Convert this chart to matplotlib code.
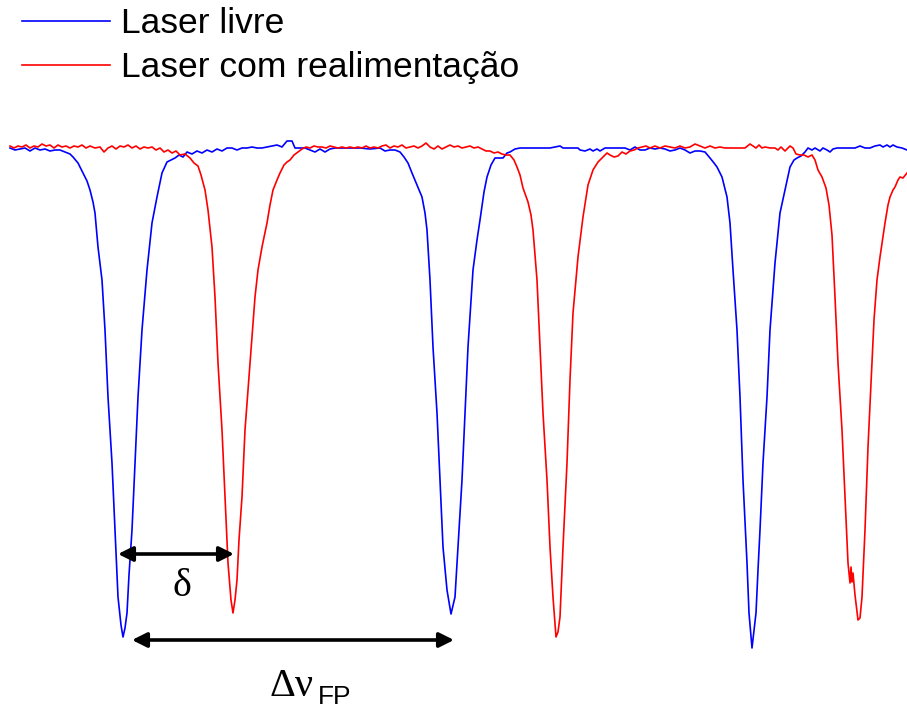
import matplotlib
matplotlib.use("Agg")
import matplotlib.pyplot as plt

# scan position (arb. units) and relative transmitted signal (arb. units, baseline 0)
blue_x = [10, 15, 20, 25, 30, 35, 40, 45, 50, 55, 60, 65, 70, 73, 78, 83, 87, 90, 93, 95, 98, 102, 105, 108, 112,
          115, 118, 121, 123, 125, 127, 129, 132, 135, 138, 142, 147, 152, 157, 162, 167, 171, 175, 179, 183,
          187, 192, 197, 202, 207, 212, 217, 222, 227, 232, 237, 242, 247, 252, 257, 262, 267, 272, 277, 282,
          287, 292, 295, 300, 305, 310, 315, 320, 325, 330, 335, 340, 350, 360, 370, 380, 385, 390, 395, 400,
          404, 408, 412, 417, 422, 425, 427, 430, 433, 437, 440, 443, 447, 451, 455, 458, 462, 465, 468, 473,
          477, 480, 484, 487, 491, 495, 499, 503, 507, 510, 515, 520, 530, 540, 550, 560, 563, 570, 578, 580,
          585, 590, 593, 597, 600, 605, 615, 625, 630, 635, 640, 645, 650, 655, 660, 665, 670, 675, 680, 685,
          690, 695, 700, 705, 710, 714, 717, 722, 727, 730, 733, 737, 740, 743, 747, 749, 752, 756, 758, 760,
          763, 767, 770, 775, 780, 785, 790, 794, 797, 801, 805, 808, 812, 815, 820, 823, 827, 830, 833, 837,
          845, 850, 855, 860, 865, 870, 875, 880, 883, 887, 890, 893, 897, 902, 907]
blue_y = [0, -2, -1, 0, -3, 0, -2, -1, -3, -2, -2, -4, -6, -9, -15, -25, -33, -42, -54, -65, -99, -132, -182, -249,
          -315, -382, -449, -477, -489, -480, -465, -427, -382, -315, -249, -182, -122, -75, -49, -25, -14, -12,
          -10, -7, -9, -4, -6, -3, -5, -2, -4, -1, -3, 0, 0, -2, 0, 0, 1, 0, 0, 1, 2, 3, 1, 7, 7, 0, 0, 0, -2,
          -4, -1, -4, -1, 0, 0, 0, 0, -1, 0, -3, -2, -2, -4, -9, -15, -25, -37, -49, -65, -82, -132, -199, -265,
          -332, -399, -442, -466, -449, -399, -332, -265, -199, -122, -92, -72, -44, -29, -17, -10, -10, -10, -5,
          -4, -1, 0, 0, 0, 0, 2, 0, 0, 0, -2, -3, -1, -3, -1, -3, 0, 0, 0, -2, 1, -2, -2, 0, -1, 0, -1, -3, -2,
          0, -2, -5, -3, -3, -4, -10, -15, -19, -29, -49, -75, -122, -182, -249, -332, -415, -465, -500, -465,
          -422, -382, -315, -249, -182, -115, -65, -42, -19, -12, -10, -8, -4, 0, -2, 0, -3, 0, -2, -4, -1, 0,
          0, 0, 0, 2, 0, 0, 2, 3, 1, 3, 1, 3, 1, 0, -2]

red_x = [10, 14, 18, 22, 26, 30, 34, 38, 42, 46, 50, 54, 58, 62, 66, 70, 74, 78, 82, 86, 90, 95, 100, 104, 108,
         112, 116, 120, 124, 128, 132, 136, 140, 144, 148, 152, 156, 160, 164, 168, 172, 176, 180, 185, 190, 194,
         198, 201, 205, 208, 212, 215, 218, 222, 225, 228, 231, 233, 235, 237, 239, 242, 245, 250, 255, 258, 262,
         267, 270, 273, 277, 280, 284, 287, 290, 294, 298, 302, 306, 310, 314, 318, 322, 326, 330, 334, 338, 342,
         346, 350, 354, 358, 362, 366, 370, 374, 378, 382, 386, 390, 394, 398, 402, 406, 410, 414, 418, 422, 426,
         430, 434, 438, 442, 446, 450, 454, 458, 462, 466, 470, 474, 478, 482, 486, 490, 494, 498, 502, 506, 510,
         514, 517, 520, 523, 528, 531, 533, 537, 540, 543, 547, 550, 553, 556, 558, 560, 563, 567, 570, 573, 578,
         583, 588, 593, 598, 602, 607, 610, 614, 618, 622, 626, 630, 634, 638, 642, 646, 650, 655, 660, 665, 670,
         675, 680, 685, 690, 695, 700, 705, 710, 715, 720, 725, 730, 735, 740, 745, 750, 753, 756, 759, 762, 765,
         770, 775, 778, 781, 785, 788, 790, 793, 796, 800, 804, 808, 812, 815, 818, 822, 826, 829, 832, 835, 838,
         842, 845, 848, 850, 851, 852, 853, 855, 858, 860, 862, 865, 868, 872, 874, 877, 880, 885, 888, 890, 893,
         895, 898, 900, 903, 907]
red_y = [2, 0, 2, 1, 3, 0, 2, 1, 4, 2, 3, 0, 3, 1, 2, 0, 2, 1, 3, 0, 2, 0, 1, -4, 0, 2, -1, 2, 1, 3, 0, 2, -1, 1,
         0, 1, -2, 0, -4, -2, -5, -3, -7, -6, -10, -15, -18, -27, -42, -62, -99, -149, -215, -282, -349, -415,
         -452, -465, -452, -432, -392, -349, -282, -215, -149, -122, -99, -75, -57, -42, -32, -25, -17, -14, -12,
         -7, -4, -1, 1, 0, 2, 1, 1, 0, 2, 1, 0, 1, 0, 1, 0, 1, 0, 2, 0, 1, 0, 2, 3, 0, 2, 1, 3, 0, 1, 2, 0, 2, 5,
         1, -1, 2, -1, 1, 3, 1, 2, 0, 1, 2, 0, 1, -1, -3, -3, -5, -4, -6, -7, -7, -12, -19, -27, -40, -54, -67,
         -82, -132, -199, -265, -332, -399, -449, -489, -484, -469, -399, -315, -232, -165, -109, -69, -37, -22,
         -14, -10, -5, -7, -9, -8, -4, -6, -3, -2, 0, 1, 2, 0, 2, 0, 2, 1, 0, 2, 0, 1, 4, 2, 0, 2, 0, 1, 0, 0, 0,
         0, 0, 4, 2, 0, 3, 0, 1, 0, 0, -2, 1, -3, 0, 2, 0, -6, -7, -7, -9, -7, -12, -22, -29, -40, -57, -87, -149,
         -215, -282, -349, -415, -435, -419, -434, -425, -447, -472, -470, -449, -382, -299, -215, -172, -132,
         -109, -75, -57, -49, -42, -39, -32, -29, -30, -25]

labels = ["Laser livre", "Laser com realimentação"]
colors = ["#0000ff", "#ff0000"]

fig = plt.figure(figsize=(9.07, 7.15), dpi=100)
ax = fig.add_axes([0, 0, 1, 1])
ax.plot(blue_x, blue_y, color=colors[0], lw=1.2, label=labels[0])
ax.plot(red_x, red_y, color=colors[1], lw=1.2, label=labels[1])
ax.set_xlim(0, 907)
ax.set_ylim(-567, 148)
ax.axis("off")

leg = ax.legend(loc="upper left", bbox_to_anchor=(0.0243, 0.99), frameon=False,
                prop={"family": "Liberation Sans", "size": 25.5}, handlelength=2.49,
                handletextpad=0.3, labelspacing=0.32, borderpad=0, borderaxespad=0)
for line in leg.get_lines():
    line.set_linewidth(1.2)

arrow = dict(arrowstyle="<|-|>", color="black", lw=2.6, mutation_scale=22, shrinkA=0, shrinkB=0)
# delta: separation between free and locked modes
ax.annotate("", xy=(118, -406), xytext=(234, -406), arrowprops=arrow)
ax.text(182, -438, "δ", family="Liberation Serif", fontsize=29, ha="center", va="center")
# free spectral range
ax.annotate("", xy=(132, -492), xytext=(454, -492), arrowprops=arrow)
ax.text(292, -539, "Δν", family="Liberation Serif", fontsize=29, ha="center", va="center")
ax.text(318, -549, "FP", family="Liberation Sans", fontsize=19, ha="left", va="center")

fig.savefig("out.png", dpi=100)
